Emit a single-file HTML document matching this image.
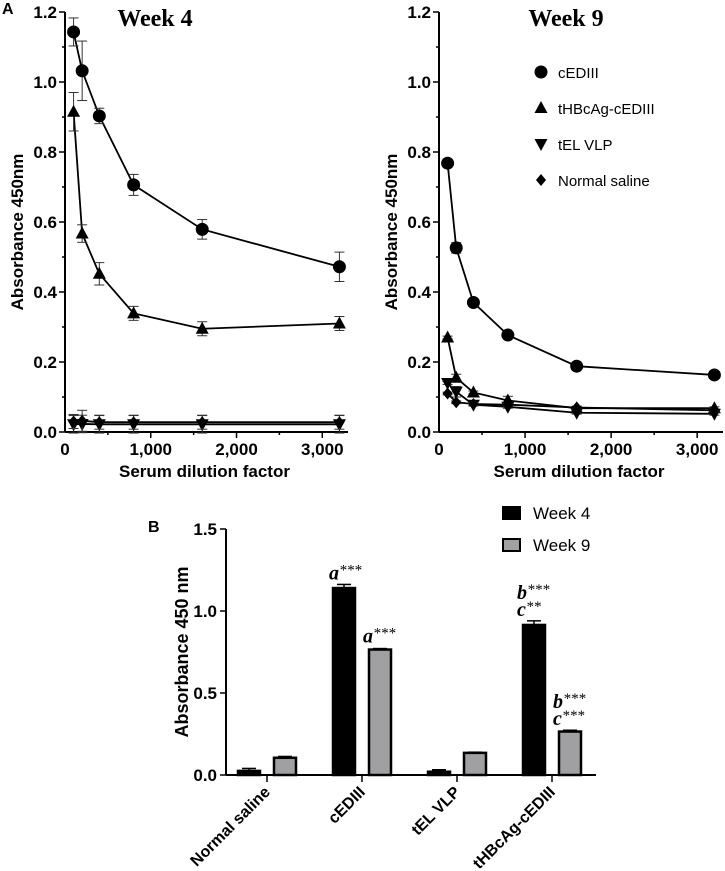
<!DOCTYPE html>
<html><head><meta charset="utf-8"><style>
body{margin:0;background:#fff}
svg{display:block;font-family:"Liberation Sans",Arial,sans-serif}
</style></head><body>
<svg id="c" width="725" height="871" viewBox="0 0 725 871"></svg>
<script>
const dilutions=[100,200,400,800,1600,3200];
const w4_cEDIII=[1.143,1.032,0.903,0.706,0.579,0.472];
const w4_tHBcAg=[0.915,0.567,0.452,0.339,0.295,0.310];
const w4_tEL=[0.022,0.023,0.022,0.022,0.022,0.022];
const w4_NS=[0.030,0.032,0.028,0.028,0.028,0.028];
const w4_err_cEDIII=[0.04,0.085,0.022,0.03,0.028,0.042];
const w4_err_tHBcAg=[0.055,0.025,0.032,0.02,0.02,0.02];
const w9_cEDIII=[0.768,0.526,0.370,0.277,0.188,0.163];
const w9_tHBcAg=[0.270,0.155,0.113,0.090,0.068,0.068];
const w9_tEL=[0.140,0.115,0.078,0.072,0.055,0.052];
const w9_NS=[0.110,0.085,0.080,0.078,0.070,0.062];
const barGroups=["Normal saline","cEDIII","tEL VLP","tHBcAg-cEDIII"];
const barWeek4=[0.025,1.14,0.02,0.915];
const barWeek9=[0.105,0.765,0.135,0.265];
const barErr4=[0.015,0.022,0.012,0.025];
const barErr9=[0.008,0.006,0.004,0.008];
const yTicksA=[0,0.2,0.4,0.6,0.8,1.0,1.2];
const xTicksA=[0,1000,2000,3000];
const yTicksB=[0,0.5,1.0,1.5];

const svg=document.getElementById('c');
const NS='http://www.w3.org/2000/svg';
function el(t,a,p){const e=document.createElementNS(NS,t);for(const k in a)e.setAttribute(k,a[k]);(p||svg).appendChild(e);return e;}
function txt(s,a,p){const e=el('text',a,p);e.textContent=s;return e;}

function panel(x0,xEnd,title,titleX,series,errs,showLegend,nm){
  const g=el('g',{});
  
  
  const y0=432,yTop=12;
  const X=v=>x0+v*(xEnd-x0)/3300;
  const Y=v=>y0-v*(y0-yTop)/1.2;
  el('line',{x1:x0,y1:yTop,x2:x0,y2:y0,stroke:'#000','stroke-width':2},g);
  el('line',{x1:x0,y1:y0,x2:xEnd,y2:y0,stroke:'#000','stroke-width':2},g);
  for(let k=0;k<=12;k++){const v=k/10,major=k%2===0;
    el('line',{x1:x0-(major?6:3),y1:Y(v),x2:x0,y2:Y(v),stroke:'#000','stroke-width':1.5},g);}
  yTicksA.forEach(v=>{const t=txt(v.toFixed(1),{x:x0-8,y:Y(v)+6,'text-anchor':'end','font-size':17,'font-weight':'bold'},g);
    });
  for(let v=500;v<=3000;v+=500){el('line',{x1:X(v),y1:y0,x2:X(v),y2:y0+(v%1000?3:6),stroke:'#000','stroke-width':1.5},g);}
  xTicksA.forEach(v=>{const t=txt(v.toLocaleString('en-US'),{x:X(v),y:y0+23,'text-anchor':'middle','font-size':17,'font-weight':'bold'},g);
    });
  const xt=txt('Serum dilution factor',{x:(x0+xEnd)/2-2,y:y0+45,'text-anchor':'middle','font-size':17,'font-weight':'bold'},g);
  
  const yt=txt('Absorbance 450nm',{x:0,y:0,transform:`translate(${x0-42},${(y0+yTop)/2+10}) rotate(-90)`,'text-anchor':'middle','font-size':17,'font-weight':'bold'},g);
  
  const tt=txt(title,{x:titleX,y:26,'text-anchor':'middle','font-size':24,'font-weight':'bold','font-family':'Liberation Serif,serif'},g);
  
  series.forEach((s,i)=>{
    const pts=s.vals.map((v,j)=>X(dilutions[j])+','+Y(v)).join(' ');
    const pl=el('polyline',{points:pts,fill:'none',stroke:'#000','stroke-width':1.8},g);
    
    s.vals.forEach((v,j)=>{
      const e=errs&&errs[i]?errs[i][j]:0.012;
      if(e>0){const cx=X(dilutions[j]);
        el('line',{x1:cx,y1:Y(v-e),x2:cx,y2:Y(v+e),stroke:'#333','stroke-width':1},g);
        el('line',{x1:cx-5,y1:Y(v+e),x2:cx+5,y2:Y(v+e),stroke:'#333','stroke-width':1},g);
        el('line',{x1:cx-5,y1:Y(v-e),x2:cx+5,y2:Y(v-e),stroke:'#333','stroke-width':1},g);}
      const m=marker(s.shape,X(dilutions[j]),Y(v),g);
      
    });
  });
  if(showLegend){
    const labs=['cEDIII','tHBcAg-cEDIII','tEL VLP','Normal saline'];
    const shapes=['circle','up','down','diamond'];
    labs.forEach((l,i)=>{const lg=el('g',{},g);
      
      marker(shapes[i],541,72+i*36,lg);
      txt(l,{x:558,y:78+i*36,'font-size':15},lg);});
  }
}
function marker(shape,x,y,p){
  if(shape==='circle')return el('circle',{cx:x,cy:y,r:6.5,fill:'#000'},p);
  if(shape==='up')return el('polygon',{points:`${x},${y-7} ${x-6.5},${y+5} ${x+6.5},${y+5}`,fill:'#000'},p);
  if(shape==='down')return el('polygon',{points:`${x},${y+7} ${x-6.5},${y-5} ${x+6.5},${y-5}`,fill:'#000'},p);
  return el('polygon',{points:`${x},${y-6} ${x+5},${y} ${x},${y+6} ${x-5},${y}`,fill:'#000'},p);
}
txt('A',{x:2,y:14,'font-size':16,'font-weight':'bold'});
panel(65,348,'Week 4',155,[
 {key:'cEDIII',shape:'circle',vals:w4_cEDIII},
 {key:'tHBcAg',shape:'up',vals:w4_tHBcAg},
 {key:'tEL',shape:'down',vals:w4_tEL},
 {key:'NS',shape:'diamond',vals:w4_NS}],
 [w4_err_cEDIII,w4_err_tHBcAg,[0.025,0.025,0.025,0.025,0.025,0.025],[0.02,0.03,0.02,0.02,0.02,0.02]],false,'week4-chart');
panel(439,723,'Week 9',566,[
 {key:'cEDIII',shape:'circle',vals:w9_cEDIII},
 {key:'tHBcAg',shape:'up',vals:w9_tHBcAg},
 {key:'tEL',shape:'down',vals:w9_tEL},
 {key:'NS',shape:'diamond',vals:w9_NS}],
 [[0.004,0.015,0.004,0.01,0.004,0.004],[0.004,0.01,0.004,0.012,0.004,0.004],[0.004,0.015,0.004,0.004,0.004,0.004],[0.004,0.004,0.004,0.004,0.004,0.004]],true,'week9-chart');

// Panel B
const gB=el('g',{});


const bx0=226,bxEnd=596,by0=775,byTop=529;
const BY=v=>by0-v*(by0-byTop)/1.5;
const BX=i=>267+i*95;
txt('B',{x:148,y:532,'font-size':16,'font-weight':'bold'},gB);
el('line',{x1:bx0,y1:byTop,x2:bx0,y2:by0,stroke:'#000','stroke-width':2},gB);
el('line',{x1:bx0,y1:by0,x2:bxEnd,y2:by0,stroke:'#000','stroke-width':2},gB);
yTicksB.forEach(v=>{el('line',{x1:bx0-6,y1:BY(v),x2:bx0,y2:BY(v),stroke:'#000','stroke-width':1.5},gB);
  const t=txt(v.toFixed(1),{x:bx0-9,y:BY(v)+6,'text-anchor':'end','font-size':17,'font-weight':'bold'},gB);
  });
const byt=txt('Absorbance 450 nm',{x:0,y:0,transform:`translate(188,${(by0+byTop)/2}) rotate(-90)`,'text-anchor':'middle','font-size':18,'font-weight':'bold'},gB);

barGroups.forEach((g,i)=>{
  const cx=BX(i);
  el('line',{x1:cx,y1:by0,x2:cx,y2:by0+7,stroke:'#000','stroke-width':1.5},gB);
  const t=txt(g,{x:0,y:0,transform:`translate(${cx+4},${by0+18}) rotate(-45)`,'text-anchor':'end','font-size':16,'font-weight':'bold'},gB);
  
  [[barWeek4,barErr4,'#000',-18,'bar-week4'],[barWeek9,barErr9,'#a0a0a2',18,'bar-week9']].forEach(([arr,err,col,off,nm])=>{
    const v=arr[i],bx=cx+off-11;
    const r=el('rect',{x:bx,y:BY(v),width:22,height:by0-BY(v),fill:col,stroke:'#000','stroke-width':2.5},gB);
    
    const e=err[i];
    el('line',{x1:cx+off,y1:BY(v),x2:cx+off,y2:BY(v+e),stroke:'#000','stroke-width':1.5},gB);
    el('line',{x1:cx+off-7,y1:BY(v+e),x2:cx+off+7,y2:BY(v+e),stroke:'#000','stroke-width':1.5},gB);
  });
});
function annot(lines,x,yBase){lines.forEach((l,k)=>{const t=el('text',{x:x,y:yBase-(lines.length-1-k)*17,'font-size':20,'font-family':'Liberation Serif,serif','font-style':'italic','font-weight':'bold'},gB);
  
  const a=el('tspan',{},t);a.textContent=l[0];const s=el('tspan',{dy:-5,'font-size':15,'font-weight':'normal'},t);s.textContent=l[1];});}
annot([['a','***']],BX(1)-33,BY(barWeek4[1]+barErr4[1])-5);
annot([['a','***']],BX(1)+1,BY(barWeek9[1]+barErr9[1])-6);
annot([['b','***'],['c','**']],BX(3)-35,BY(barWeek4[3]+barErr4[3])-5);
annot([['b','***'],['c','***']],BX(3)+1,BY(barWeek9[3]+barErr9[3])-5);
[['#000','Week 4',513],['#a0a0a2','Week 9',545]].forEach(([c,l,y])=>{const lg=el('g',{},gB);
  
  el('rect',{x:503,y:y-6,width:17,height:12,fill:c,stroke:'#000','stroke-width':2},lg);
  txt(l,{x:533,y:y+6,'font-size':17},lg);});
</script>
</body></html>
